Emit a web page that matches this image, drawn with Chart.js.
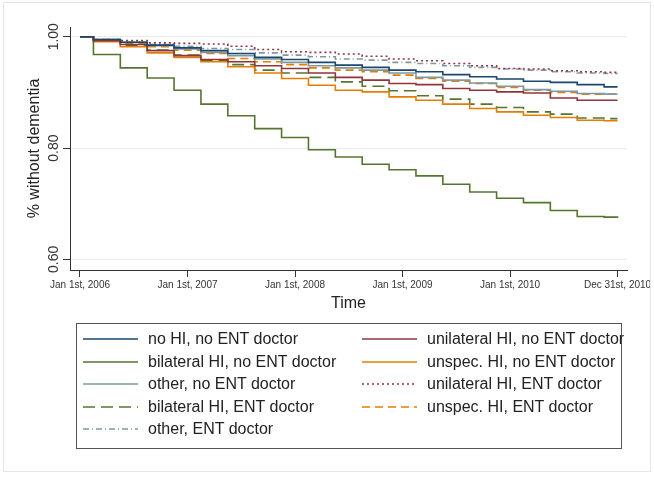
<!DOCTYPE html>
<html>
<head>
<meta charset="utf-8">
<script src="https://cdn.jsdelivr.net/npm/chart.js@4.4.1/dist/chart.umd.min.js"></script>
<style>
  body { margin: 0; background: #fff; font-family: "Liberation Sans", Arial, sans-serif; }
  #wrap { position: relative; width: 654px; height: 477px; }
  #frame { position: absolute; left: 3px; top: 2px; width: 646px; height: 468px; border: 1px solid #e6e6e6; pointer-events: none; }
  #legend { position: absolute; left: 76px; top: 323px; width: 544px; height: 120px; border: 1px solid #555;
            display: grid; grid-template-columns: 279px 1fr; grid-auto-rows: 22.5px; padding-top: 4px; box-sizing: content-box; }
  #legend .item { display: flex; align-items: center; font-size: 16px; color: #222; white-space: nowrap; }
  #legend svg { margin-left: 6px; margin-right: 10px; flex: none; }
</style>
</head>
<body>
<div id="wrap">
  <canvas id="myChart" width="654" height="477"></canvas>
  <div id="frame"></div>
  <div id="legend"></div>
</div>
<script>
// years since Jan 1st, 2006 where the curves step
const stepTimes = [0, 0.125, 0.375, 0.625, 0.875, 1.125, 1.375, 1.625, 1.875, 2.125, 2.375,
                   2.625, 2.875, 3.125, 3.375, 3.625, 3.875, 4.125, 4.375, 4.625, 4.875, 5.0];

const seriesNames = [
  'no HI, no ENT doctor', 'unilateral HI, no ENT doctor',
  'bilateral HI, no ENT doctor', 'unspec. HI, no ENT doctor',
  'other, no ENT doctor', 'unilateral HI, ENT doctor',
  'bilateral HI, ENT doctor', 'unspec. HI, ENT doctor',
  'other, ENT doctor'
];

const noHInoENT   = [1.000, 0.995, 0.990, 0.985, 0.980, 0.975, 0.970, 0.963, 0.959, 0.954, 0.949, 0.945, 0.940, 0.937, 0.932, 0.928, 0.924, 0.920, 0.918, 0.914, 0.910, 0.910];
const uniNoENT    = [1.000, 0.993, 0.986, 0.975, 0.966, 0.959, 0.955, 0.948, 0.943, 0.935, 0.927, 0.922, 0.916, 0.914, 0.907, 0.904, 0.901, 0.899, 0.890, 0.886, 0.886, 0.886];
const biNoENT     = [1.000, 0.968, 0.944, 0.926, 0.904, 0.879, 0.858, 0.835, 0.819, 0.797, 0.784, 0.771, 0.761, 0.750, 0.735, 0.721, 0.710, 0.702, 0.688, 0.677, 0.676, 0.675];
const unspecNoENT = [1.000, 0.991, 0.982, 0.971, 0.963, 0.955, 0.946, 0.935, 0.925, 0.913, 0.904, 0.901, 0.892, 0.886, 0.879, 0.871, 0.865, 0.859, 0.855, 0.850, 0.849, 0.849];
const otherNoENT  = [1.000, 0.995, 0.990, 0.984, 0.978, 0.972, 0.966, 0.960, 0.954, 0.948, 0.944, 0.940, 0.935, 0.927, 0.922, 0.917, 0.911, 0.905, 0.902, 0.898, 0.897, 0.897];
const uniENT      = [1.000, 0.995, 0.993, 0.989, 0.988, 0.987, 0.983, 0.977, 0.973, 0.972, 0.969, 0.965, 0.960, 0.957, 0.952, 0.948, 0.943, 0.942, 0.939, 0.937, 0.936, 0.936];
const biENT       = [1.000, 0.992, 0.985, 0.976, 0.967, 0.958, 0.950, 0.940, 0.935, 0.927, 0.919, 0.911, 0.903, 0.894, 0.888, 0.879, 0.873, 0.865, 0.861, 0.854, 0.853, 0.853];
const unspecENT   = [1.000, 0.995, 0.988, 0.982, 0.976, 0.970, 0.961, 0.955, 0.950, 0.944, 0.940, 0.937, 0.931, 0.925, 0.920, 0.916, 0.909, 0.904, 0.900, 0.897, 0.897, 0.897];
const otherENT    = [1.000, 0.994, 0.990, 0.986, 0.983, 0.979, 0.977, 0.971, 0.967, 0.964, 0.960, 0.958, 0.954, 0.952, 0.948, 0.945, 0.942, 0.940, 0.937, 0.935, 0.934, 0.934];

const xTicks = [0, 1, 2, 3, 4, 5];
const xTickLabels = ['Jan 1st, 2006', 'Jan 1st, 2007', 'Jan 1st, 2008', 'Jan 1st, 2009', 'Jan 1st, 2010', 'Dec 31st, 2010'];
const yTicks = [0.60, 0.80, 1.00];

const navy = '#1a476f', maroon = '#90353b', green = '#55752f', orange = '#e37e00', teal = '#7f97a2';

function pts(vals) {
  return vals.map((v, i) => ({x: stepTimes[i], y: v}));
}

function line(label, vals, color, dash) {
  return {
    label: label,
    data: pts(vals),
    borderColor: color,
    borderWidth: 1.6,
    borderDash: dash || [],
    stepped: true,
    pointRadius: 0,
    fill: false
  };
}

const yLabels = {
  id: 'yLabels',
  afterDraw(chart) {
    const s = chart.scales.y;
    const ctx = chart.ctx;
    ctx.save();
    ctx.font = '14px "Liberation Sans", Arial, sans-serif';
    ctx.fillStyle = '#333';
    ctx.textAlign = 'center';
    ctx.textBaseline = 'alphabetic';
    yTicks.forEach(v => {
      ctx.save();
      ctx.translate(s.right - 12, s.getPixelForValue(v));
      ctx.rotate(-Math.PI / 2);
      ctx.fillText(v.toFixed(2), 0, 0);
      ctx.restore();
    });
    ctx.restore();
  }
};

const ctx = document.getElementById('myChart').getContext('2d');

const myChart = new Chart(ctx, {
  type: 'line',
  data: {
    datasets: [
      line(seriesNames[0], noHInoENT, navy),
      line(seriesNames[1], uniNoENT, maroon),
      line(seriesNames[2], biNoENT, green),
      line(seriesNames[3], unspecNoENT, orange),
      line(seriesNames[4], otherNoENT, teal),
      line(seriesNames[5], uniENT, maroon, [2, 3]),
      line(seriesNames[6], biENT, green, [12, 6]),
      line(seriesNames[7], unspecENT, orange, [8, 5]),
      line(seriesNames[8], otherENT, teal, [6, 3, 1, 3])
    ]
  },
  options: {
    responsive: false,
    animation: false,
    layout: { padding: { left: 4, right: 27, top: 27, bottom: 157 } },
    plugins: { legend: { display: false }, tooltip: { enabled: false } },
    scales: {
      x: {
        type: 'linear',
        min: -0.093,
        max: 5.088,
        afterBuildTicks: (s) => { s.ticks = xTicks.map(v => ({value: v})); },
        afterFit: (s) => { s.height = 50; s.paddingLeft = 0; s.paddingRight = 0; },
        ticks: {
          autoSkip: false,
          maxRotation: 0,
          padding: 2,
          color: '#333',
          font: { size: 10, family: '"Liberation Sans", Arial, sans-serif' },
          callback: (v) => xTickLabels[xTicks.indexOf(v)]
        },
        grid: { drawOnChartArea: false, tickLength: 7, tickColor: '#333' },
        border: { display: true, color: '#333', width: 1 },
        title: {
          display: true, text: 'Time', color: '#222',
          font: { size: 16, family: '"Liberation Sans", Arial, sans-serif' },
          padding: { top: 0, bottom: 7 }
        }
      },
      y: {
        min: 0.581,
        max: 1.0175,
        afterBuildTicks: (s) => { s.ticks = yTicks.map(v => ({value: v})); },
        afterFit: (s) => { s.width = 66; s.paddingTop = 0; s.paddingBottom = 0; },
        ticks: { display: false },
        grid: { color: '#e6ecef', lineWidth: 1, tickLength: 7, tickColor: '#333' },
        border: { display: true, color: '#333', width: 1 },
        title: {
          display: true, text: '% without dementia', color: '#222',
          font: { size: 16, family: '"Liberation Sans", Arial, sans-serif' },
          padding: { top: 21, bottom: 0 }
        }
      }
    }
  },
  plugins: [yLabels]
});

// two-column legend built from the chart's datasets
const legendBox = document.getElementById('legend');
myChart.data.datasets.forEach(ds => {
  const item = document.createElement('div');
  item.className = 'item';
  item.innerHTML = '<svg width="55" height="10"><line x1="0" y1="5" x2="55" y2="5" stroke="' + ds.borderColor +
    '" stroke-width="1.4" stroke-dasharray="' + ds.borderDash.join(' ') + '"/></svg><span>' + ds.label + '</span>';
  legendBox.appendChild(item);
});
</script>
</body>
</html>
